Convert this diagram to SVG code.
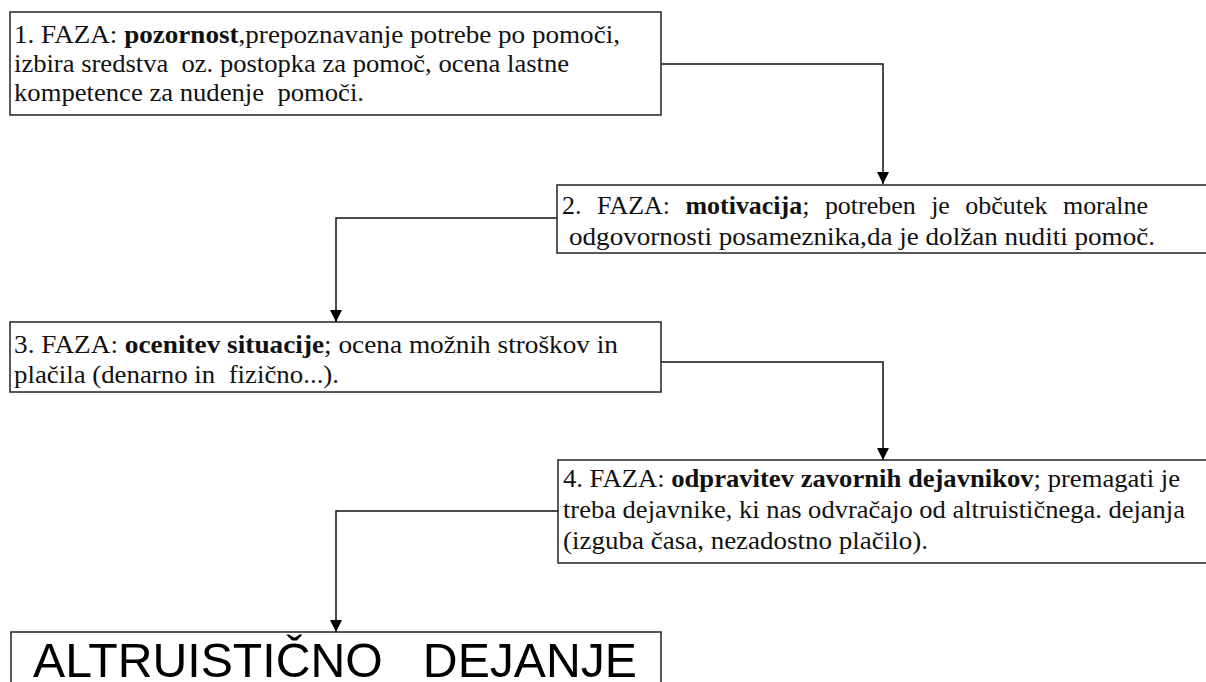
<svg xmlns="http://www.w3.org/2000/svg" width="1206" height="682" viewBox="0 0 1206 682">
<style>
.box{fill:#fff;stroke:#222;stroke-width:1.5}
.t{font-family:'Liberation Serif','Times New Roman',serif;font-size:26px;fill:#111}
.b{font-weight:bold}
.big{font-family:'Liberation Sans',Arial,sans-serif;font-size:48px;fill:#000}
.c{fill:none;stroke:#111;stroke-width:1.5}
</style>
<defs>
<marker id="ah" viewBox="0 0 12 12" refX="12" refY="6" markerWidth="12" markerHeight="12" markerUnits="userSpaceOnUse" orient="auto">
<path d="M0,0 L12,6 L0,12 Z" fill="#000"/>
</marker>
</defs>
<rect width="1206" height="682" fill="#fff"/>
<g id="connectors">
<path class="c" d="M661,64 H883 V184" marker-end="url(#ah)"/>
<path class="c" d="M557,218 H336 V322" marker-end="url(#ah)"/>
<path class="c" d="M661,362 H883 V460" marker-end="url(#ah)"/>
<path class="c" d="M558,511 H336 V632" marker-end="url(#ah)"/>
</g>
<g id="faza1">
<rect class="box" x="10" y="12" width="651" height="103"/>
<text class="t" x="14" y="43" textLength="606" lengthAdjust="spacingAndGlyphs">1. FAZA: <tspan class="b">pozornost</tspan>,prepoznavanje potrebe po pomoči,</text>
<text class="t" x="14" y="72" textLength="555" lengthAdjust="spacingAndGlyphs" xml:space="preserve">izbira sredstva  oz. postopka za pomoč, ocena lastne</text>
<text class="t" x="14" y="101" textLength="350" lengthAdjust="spacingAndGlyphs" xml:space="preserve">kompetence za nudenje  pomoči.</text>
</g>
<g id="faza2">
<rect class="box" x="557" y="185" width="660" height="68"/>
<text class="t" x="562" y="214" textLength="586" lengthAdjust="spacingAndGlyphs" word-spacing="9">2. FAZA: <tspan class="b">motivacija</tspan>; potreben je občutek moralne</text>
<text class="t" x="569" y="245" textLength="586" lengthAdjust="spacingAndGlyphs">odgovornosti posameznika,da je dolžan nuditi pomoč.</text>
</g>
<g id="faza3">
<rect class="box" x="10" y="322" width="651" height="70"/>
<text class="t" x="14" y="353" textLength="604" lengthAdjust="spacingAndGlyphs">3. FAZA: <tspan class="b">ocenitev situacije</tspan>; ocena možnih stroškov in</text>
<text class="t" x="14" y="383" textLength="325" lengthAdjust="spacingAndGlyphs" xml:space="preserve">plačila (denarno in  fizično...).</text>
</g>
<g id="faza4">
<rect class="box" x="558" y="460" width="660" height="103"/>
<text class="t" x="563" y="487" textLength="617" lengthAdjust="spacingAndGlyphs">4. FAZA: <tspan class="b">odpravitev zavornih dejavnikov</tspan>; premagati je</text>
<text class="t" x="563" y="518" textLength="622" lengthAdjust="spacingAndGlyphs">treba dejavnike, ki nas odvračajo od altruističnega. dejanja</text>
<text class="t" x="563" y="549" textLength="365" lengthAdjust="spacingAndGlyphs">(izguba časa, nezadostno plačilo).</text>
</g>
<g id="dejanje">
<rect class="box" x="11" y="632" width="650" height="70"/>
<text class="big" x="33" y="677" textLength="604" lengthAdjust="spacingAndGlyphs" xml:space="preserve">ALTRUISTIČNO   DEJANJE</text>
</g>
</svg>
